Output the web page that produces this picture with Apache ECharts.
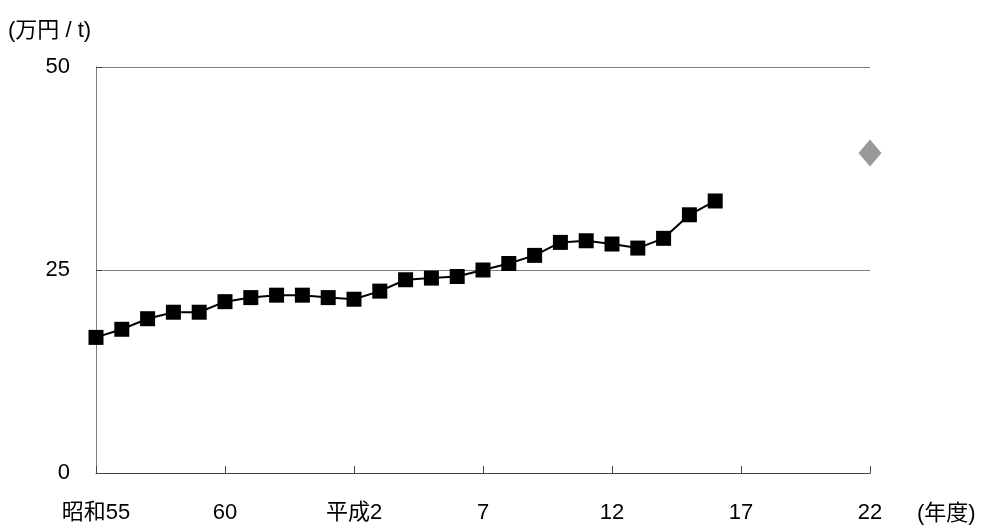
<!DOCTYPE html>
<html>
<head>
<meta charset="utf-8">
<script src="https://cdn.jsdelivr.net/npm/echarts@6/dist/echarts.min.js"></script>
<style>
html,body{margin:0;padding:0;background:#fff;}
#c{width:987px;height:530px;}
</style>
</head>
<body>
<div id="c"></div>
<script>
var categories = ['昭和55','56','57','58','59','60','61','62','63','平成元','平成2','3','4','5','6','7','8','9','10','11','12','13','14','15','16','17','18','19','20','21','22'];
var actualValues = [16.7,17.7,19.0,19.8,19.8,21.1,21.6,21.9,21.9,21.6,21.4,22.4,23.8,24.0,24.2,25.0,25.8,26.8,28.4,28.6,28.2,27.7,28.9,31.8,33.5];
var targetYearIndex = 30;
var targetValue = 39.4;
var yTicks = [0,25,50];

var lineData = categories.map(function(c,i){ return i < actualValues.length ? actualValues[i] : null; });
var targetData = categories.map(function(c,i){ return i === targetYearIndex ? targetValue : null; });

var font = "'Liberation Sans', 'Noto Sans CJK JP', sans-serif";
var chart = echarts.init(document.getElementById('c'));
chart.setOption({
  animation: false,
  backgroundColor: '#fff',
  grid: {left: 96, right: 117, top: 67, bottom: 57, containLabel: false},
  xAxis: {
    type: 'category',
    data: categories,
    boundaryGap: false,
    axisLine: {lineStyle: {color: '#404040', width: 1}},
    axisTick: {show: true, inside: true, length: 7, interval: 4, lineStyle: {color: '#404040'}},
    axisLabel: {interval: 4, margin: 29, color: '#000', fontSize: 22, fontFamily: font},
    splitLine: {show: false}
  },
  yAxis: {
    type: 'value',
    min: yTicks[0], max: yTicks[yTicks.length-1], interval: 25,
    axisLine: {show: true, lineStyle: {color: '#808080', width: 1}},
    axisTick: {show: true, inside: true, length: 6, lineStyle: {color: '#404040'}},
    axisLabel: {margin: 26, color: '#000', fontSize: 22, fontFamily: font},
    splitLine: {show: true, lineStyle: {color: '#808080', width: 1}}
  },
  graphic: [
    {type: 'text', left: 8, top: 20, style: {text: '(万円 / t)', fontSize: 22, fontFamily: font, fill: '#000'}},
    {type: 'text', left: 917, top: 503, style: {text: '(年度)', fontSize: 22, fontFamily: font, fill: '#000'}}
  ],
  series: [
    {
      type: 'line',
      data: lineData,
      symbol: 'rect',
      symbolSize: 15,
      showAllSymbol: true,
      connectNulls: false,
      lineStyle: {color: '#000', width: 2},
      itemStyle: {color: '#000'}
    },
    {
      type: 'scatter',
      data: targetData,
      symbol: 'diamond',
      symbolSize: [23, 27],
      itemStyle: {color: '#808080'}
    }
  ]
});
</script>
</body>
</html>
